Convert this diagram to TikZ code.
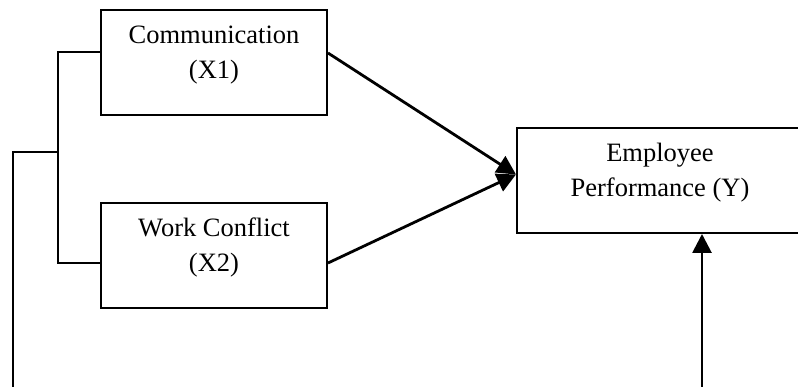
\documentclass[tikz,border=0pt]{standalone}
\usepackage{fontspec}
\setmainfont{Liberation Serif}
\usetikzlibrary{arrows.meta}

\tikzset{
  varbox/.style={draw, line width=2pt, minimum width=226pt, minimum height=105pt, inner sep=0pt},
  vartext/.style={align=center, font=\fontsize{26.5}{35}\selectfont, inner sep=0pt},
  link/.style={line width=2pt},
  arr/.style={line width=2.8pt, -{Triangle[length=19pt,width=19pt]}}
}

\begin{document}
\begin{tikzpicture}[x=1pt,y=-1pt]
    \useasboundingbox (0,0) rectangle (798,387);
    \begin{scope}
      % boxes
      \node[varbox] (comm) at (214,63) {};
      \node[varbox] (wc) at (214,255.5) {};
      \node[varbox, minimum width=300pt] (emp) at (667,180.5) {};
      \node[vartext] (commtxt) at ([yshift=8pt]comm.center) {Communication\\(X1)};
      \node[vartext] (wctxt) at ([yshift=8pt]wc.center) {Work Conflict\\(X2)};
      \node[vartext] (emptxt) at ([xshift=-7pt,yshift=8pt]emp.center) {Employee\\Performance (Y)};
      % bracket on the left
      \coordinate (fork) at (58,152);
      \coordinate (xbot) at (13,387);
      \coordinate (ybot) at (702,387);
      \draw[link] ([yshift=11pt]comm.west) -| (fork) |- ([yshift=-7.5pt]wc.west);
      \draw[link] (xbot) |- (fork);
      % arrows
      \draw[arr] ([yshift=10pt]comm.east) -- ([yshift=6pt]emp.west);
      \draw[arr] ([yshift=-7.5pt]wc.east) -- ([yshift=6pt]emp.west);
      \draw[arr] (ybot) -- (ybot |- emp.south);
    \end{scope}
  \end{tikzpicture}
\end{document}
